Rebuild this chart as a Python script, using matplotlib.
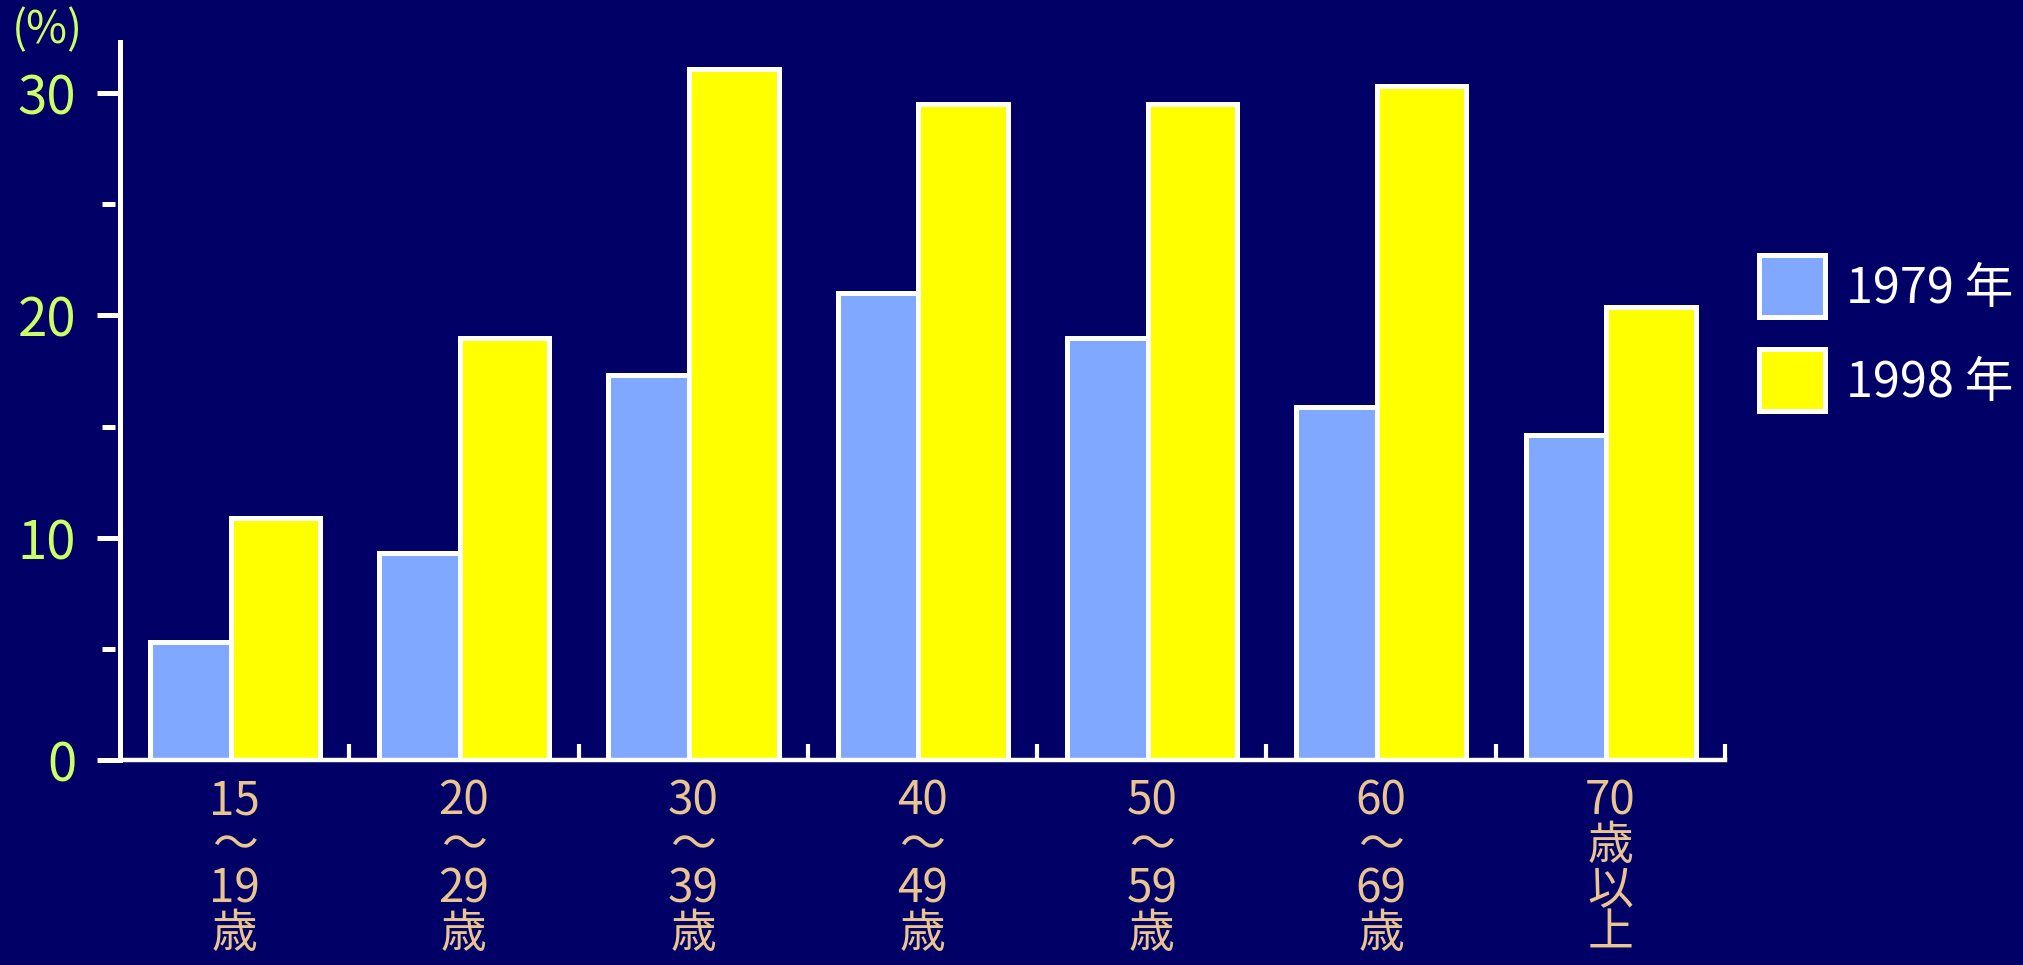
import matplotlib
matplotlib.use("Agg")
import matplotlib.pyplot as plt
import matplotlib.patches as patches
import matplotlib.transforms as mtransforms
import numpy as np

plt.rcParams['font.family'] = ['Noto Sans CJK JP', 'DejaVu Sans']

# age groups and share (%) for each survey year
age_labels = ["15\n〜\n19\n歳", "20\n〜\n29\n歳", "30\n〜\n39\n歳", "40\n〜\n49\n歳",
              "50\n〜\n59\n歳", "60\n〜\n69\n歳", "70\n歳\n以\n上"]
series_names = ["1979 年", "1998 年"]
pct_1979 = [5.3, 9.3, 17.3, 21.0, 19.0, 15.9, 14.6]
pct_1998 = [10.9, 19.0, 31.1, 29.5, 29.5, 30.3, 20.4]

BG = "#000066"
BLUE = "#80A8FF"
YELLOW = "#FFFF00"
GREEN = "#CCFF66"
TAN = "#EAC590"

W, H = 2023, 965
fig = plt.figure(figsize=(W / 100, H / 100), dpi=100, facecolor=BG)
ax = fig.add_axes([120 / W, 1 - 760 / H, 1605 / W, 718 / H])
ax.set_facecolor(BG)

x = np.arange(len(age_labels))
w = 0.39
ax.bar(x - 0.175, pct_1979, width=w, color=BLUE, edgecolor="white", linewidth=3.6, zorder=2)
ax.bar(x + 0.177, pct_1998, width=w, color=YELLOW, edgecolor="white", linewidth=3.6, zorder=3)

ax.set_xlim(-0.5, 6.5)
ax.set_ylim(0, 32.3)

for s in ["top", "right"]:
    ax.spines[s].set_visible(False)
for s, lw in [("left", 3.6), ("bottom", 3.2)]:
    ax.spines[s].set_color("white")
    ax.spines[s].set_linewidth(lw)
    ax.spines[s].set_zorder(5)

# y axis: major ticks outward, labels in green
ax.set_yticks([0, 10, 20, 30])
ax.set_yticklabels(["0", "10", "20", "30"])
ax.tick_params(axis="y", which="major", direction="out", length=16.5, width=3.6,
               color="white", labelcolor=GREEN, labelsize=38, pad=15)

# short detached minor ticks at 5, 15, 25
trans = mtransforms.blended_transform_factory(ax.transAxes, ax.transData)
for yv in [5, 15, 25]:
    ax.plot([-0.0114, -0.0031], [yv, yv], color="white", lw=3.6,
            solid_capstyle="butt", transform=trans, clip_on=False)

# x axis: labels at group centers, marks at group boundaries pointing up
ax.set_xticks(x)
ax.set_xticklabels(age_labels, linespacing=0.88)
ax.set_xticks(np.arange(0.5, 7.0, 1.0), minor=True)
ax.tick_params(axis="x", which="major", length=0, labelcolor=TAN, labelsize=33, pad=12.5)
ax.tick_params(axis="x", which="minor", direction="in", length=11.5, width=3,
               color="white")

fig.text(12 / W, 1 - 30 / H, "(%)", color=GREEN, fontsize=32, ha="left", va="center")

# legend drawn as boxes with labels at the right
for i, (name, col) in enumerate(zip(series_names, [BLUE, YELLOW])):
    top = 253 + i * 94
    fig.patches.append(patches.Rectangle((1759 / W, 1 - (top + 64) / H), 66 / W, 62 / H,
                                         transform=fig.transFigure, facecolor=col,
                                         edgecolor="white", linewidth=3.6))
    fig.text(1846 / W, 1 - (top + 36) / H, name, color="white", fontsize=35,
             ha="left", va="center")

fig.savefig("out.png", dpi=100, facecolor=BG)
